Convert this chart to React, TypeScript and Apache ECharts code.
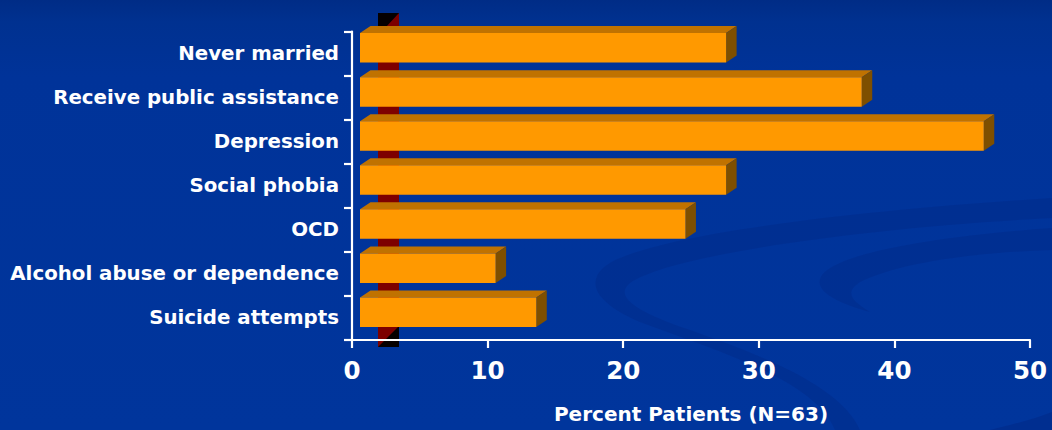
import React, { useEffect, useRef } from "react";
import * as echarts from "echarts";

// ---- data ----
const categories = [
  "Never married",
  "Receive public assistance",
  "Depression",
  "Social phobia",
  "OCD",
  "Alcohol abuse or dependence",
  "Suicide attempts",
];
const percentPatients = [27, 37, 46, 27, 24, 10, 13];
const xMin = 0;
const xMax = 50;
const xStep = 10;
const xAxisTitle = "Percent Patients (N=63)";

// ---- styling of the pseudo-3D bars ----
const FRONT = "#FF9900";
const TOP = "#C07200";
const SIDE = "#7E4F00";
const FACE_SHIFT_X = 8; // front face sits a little in front of the axis plane
const FACE_LIFT = 5.7; // front face is raised above the band centre
const FACE_H = 29.5;
const DEPTH_X = 10.5;
const DEPTH_Y = 7;

const FONT = "DejaVu Sans";

// faint background swooshes
const swooshA =
  "M 1052 198 C 860 210 640 235 603 268 C 585 285 600 305 640 322 C 720 352 815 380 835 430 L 860 430 C 840 385 760 355 690 330 C 630 310 615 295 630 283 C 670 255 860 228 1052 218 Z";
const swooshB =
  "M 1052 228 C 940 236 840 252 822 275 C 812 290 835 302 870 312 C 850 300 845 292 860 282 C 900 262 980 252 1052 250 Z";
const swooshC = "M 990 430 C 1010 425 1035 419 1052 412 L 1052 430 Z";
echarts.graphic.registerShape("swooshA", echarts.graphic.extendPath(swooshA, {}));
echarts.graphic.registerShape("swooshB", echarts.graphic.extendPath(swooshB, {}));
echarts.graphic.registerShape("swooshC", echarts.graphic.extendPath(swooshC, {}));

function renderBar(_params: any, api: any) {
  const value = api.value(0);
  const cat = api.value(1);
  const p0 = api.coord([0, cat]);
  const p1 = api.coord([value, cat]);
  const cy = p0[1] - FACE_LIFT;
  const x0 = p0[0] + FACE_SHIFT_X;
  const x1 = p1[0] + FACE_SHIFT_X;
  const y0 = cy - FACE_H / 2;
  const y1 = cy + FACE_H / 2;
  return {
    type: "group",
    children: [
      {
        type: "polygon",
        shape: {
          points: [
            [x0, y0],
            [x0 + DEPTH_X, y0 - DEPTH_Y],
            [x1 + DEPTH_X, y0 - DEPTH_Y],
            [x1, y0],
          ],
        },
        style: { fill: TOP },
      },
      {
        type: "polygon",
        shape: {
          points: [
            [x1, y0],
            [x1 + DEPTH_X, y0 - DEPTH_Y],
            [x1 + DEPTH_X, y1 - DEPTH_Y],
            [x1, y1],
          ],
        },
        style: { fill: SIDE },
      },
      {
        type: "rect",
        shape: { x: x0, y: y0, width: x1 - x0, height: FACE_H },
        style: { fill: FRONT },
      },
    ],
  };
}

export default function App() {
  const ref = useRef<HTMLDivElement>(null);

  useEffect(() => {
    document.body.style.margin = "0";
    if (!ref.current) return;
    const chart = echarts.init(ref.current, undefined, { renderer: "svg" });

    const seriesData = percentPatients.map((v, i) => [v, i]);

    chart.setOption({
      animation: false,
      grid: { left: 352, right: 22, top: 31.5, bottom: 90 },
      xAxis: {
        type: "value",
        min: xMin,
        max: xMax,
        interval: xStep,
        z: 3,
        axisLine: { show: true, lineStyle: { color: "#fff", width: 2.2 } },
        axisTick: { show: true, length: 8, lineStyle: { color: "#fff", width: 2.2 } },
        splitLine: { show: false },
        axisLabel: {
          color: "#fff",
          fontFamily: FONT,
          fontWeight: "bold",
          fontSize: 24.5,
          margin: 18,
        },
        name: xAxisTitle,
        nameLocation: "middle",
        nameGap: 64,
        nameTextStyle: {
          color: "#fff",
          fontFamily: FONT,
          fontWeight: "bold",
          fontSize: 20,
        },
      },
      yAxis: {
        type: "category",
        data: categories,
        inverse: true,
        z: 3,
        axisLine: { show: true, lineStyle: { color: "#fff", width: 2.2 } },
        axisTick: { show: true, length: 8, lineStyle: { color: "#fff", width: 2.2 } },
        splitLine: { show: false },
        axisLabel: {
          color: "#fff",
          fontFamily: FONT,
          fontWeight: "bold",
          fontSize: 19.8,
          margin: 13,
        },
      },
      graphic: [
        { type: "swooshA", z: 0, silent: true, style: { fill: "#002a88", opacity: 0.45 } },
        { type: "swooshB", z: 0, silent: true, style: { fill: "#002a88", opacity: 0.45 } },
        { type: "swooshC", z: 0, silent: true, style: { fill: "#002a88", opacity: 0.6 } },
        // dark red back wall strip with shaded ends
        {
          type: "rect",
          z: 1,
          silent: true,
          shape: { x: 378, y: 13, width: 21, height: 334 },
          style: { fill: "#7d0000" },
        },
        {
          type: "polygon",
          z: 1,
          silent: true,
          shape: { points: [[378, 13], [399, 13], [386, 27], [378, 27]] },
          style: { fill: "#050000" },
        },
        {
          type: "polygon",
          z: 1,
          silent: true,
          shape: { points: [[399, 326], [399, 347], [378, 347]] },
          style: { fill: "#050000" },
        },
      ],
      series: [
        {
          type: "custom",
          z: 2,
          renderItem: renderBar,
          encode: { x: 0, y: 1 },
          data: seriesData,
        },
      ],
    });

    return () => chart.dispose();
  }, []);

  return (
    <div
      ref={ref}
      style={{
        width: 1052,
        height: 430,
        background:
          "linear-gradient(180deg, #002c86 0%, #003190 5%, #003399 18%, #00359c 100%)",
      }}
    />
  );
}
